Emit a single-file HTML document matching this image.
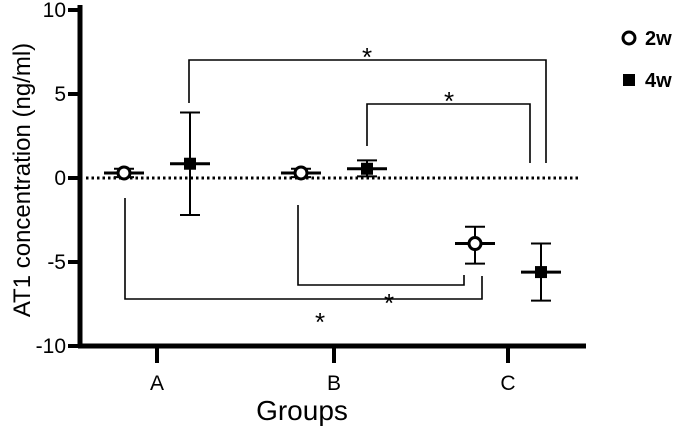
<!DOCTYPE html>
<html><head><meta charset="utf-8"><style>
html,body{margin:0;padding:0;background:#fff;width:685px;height:432px;overflow:hidden}
svg{display:block;font-family:"Liberation Sans",Arial,sans-serif}
</style></head><body>
<svg id="chart" width="685" height="432" viewBox="0 0 685 432">
<g id="axes"></g><g id="marks"></g><g id="sig"></g><g id="legend"></g>
</svg>
<script>
const groups = ["A","B","C"];
const series = ["2w","4w"];
const means2w = [0.3, 0.3, -3.9];
const err2wLow = [0.05, 0.05, -5.1];
const err2wHigh = [0.55, 0.55, -2.9];
const means4w = [0.85, 0.55, -5.6];
const err4wLow = [-2.2, 0.1, -7.3];
const err4wHigh = [3.9, 1.05, -3.9];
const yTicks = [10, 5, 0, -5, -10];

const NS = "http://www.w3.org/2000/svg";
const y = v => 178 - v * 16.8;
const xc = i => [157, 334, 508][i];
const xs = (i, s) => xc(i) + (s === 0 ? -33 : 33);
function mk(parent, tag, attrs, text){
  const e = document.createElementNS(NS, tag);
  for (const k in attrs) e.setAttribute(k, attrs[k]);
  if (text !== undefined) e.textContent = text;
  document.getElementById(parent).appendChild(e);
  return e;
}
let e;
e = mk("axes","line",{x1:80,y1:5,x2:80,y2:348,stroke:"#000","stroke-width":5});
 
e = mk("axes","line",{x1:78,y1:346,x2:586,y2:346,stroke:"#000","stroke-width":5});
 
yTicks.forEach(t=>{
  e = mk("axes","line",{x1:68,y1:y(t),x2:80,y2:y(t),stroke:"#000","stroke-width":4});
   
  e = mk("axes","text",{x:66,y:y(t)+7,"text-anchor":"end","font-size":21},String(t));
   
});
groups.forEach((g,i)=>{
  e = mk("axes","line",{x1:xc(i),y1:346,x2:xc(i),y2:363,stroke:"#000","stroke-width":4});
   
  e = mk("axes","text",{x:xc(i),y:390,"text-anchor":"middle","font-size":21},g);
   
});
e = mk("axes","text",{x:302,y:420,"text-anchor":"middle","font-size":28},"Groups");
 
e = mk("axes","text",{x:0,y:0,"text-anchor":"middle","font-size":24,transform:"translate(30,180) rotate(-90)"},"AT1 concentration (ng/ml)");
 
e = mk("axes","line",{x1:86,y1:y(0),x2:578,y2:y(0),stroke:"#000","stroke-width":3,"stroke-dasharray":"2.5,3"});
 
function drawPoint(i,s,m,lo,hi){
  const x = xs(i,s);
  e = mk("marks","line",{x1:x,y1:y(lo),x2:x,y2:y(hi),stroke:"#000","stroke-width":2});
   
  [lo,hi].forEach(v=>{
    e = mk("marks","line",{x1:x-10,y1:y(v),x2:x+10,y2:y(v),stroke:"#000","stroke-width":2});
     
  });
  e = mk("marks","line",{x1:x-20,y1:y(m),x2:x+20,y2:y(m),stroke:"#000","stroke-width":3});
   
  if (s===0){
    e = mk("marks","circle",{cx:x,cy:y(m),r:6,fill:"#fff",stroke:"#000","stroke-width":3});
     
  } else {
    e = mk("marks","rect",{x:x-6,y:y(m)-6,width:12,height:12,fill:"#000"});
     
  }
}
groups.forEach((g,i)=>{
  drawPoint(i,0,means2w[i],err2wLow[i],err2wHigh[i]);
  drawPoint(i,1,means4w[i],err4wLow[i],err4wHigh[i]);
});
function bracket(pts, sx, sy){
  e = mk("sig","polyline",{points:pts,fill:"none",stroke:"#000","stroke-width":1.6});
   
  e = mk("sig","text",{x:sx,y:sy,"text-anchor":"middle","font-size":26},"*");
   
}
bracket("189,103 189,60 546,60 546,163", 367, 66);
bracket("367,146 367,104 530,104 530,163", 449, 110);
bracket("298,205 298,285 464,285 464,275", 389, 312);
bracket("125,198 125,299 482,299 482,276", 320, 331);
e = mk("legend","circle",{cx:629,cy:38,r:6,fill:"#fff",stroke:"#000","stroke-width":3});
 
e = mk("legend","text",{x:645,y:45,"font-size":20,"font-weight":"bold"},series[0]);
 
e = mk("legend","rect",{x:623,y:74,width:12,height:12,fill:"#000"});
 
e = mk("legend","text",{x:645,y:87,"font-size":20,"font-weight":"bold"},series[1]);
 
</script>
</body></html>
